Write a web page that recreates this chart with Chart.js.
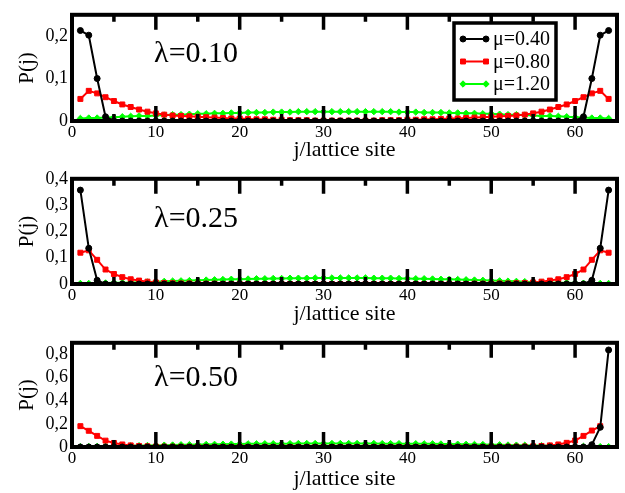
<!DOCTYPE html>
<html>
<head>
<meta charset="utf-8">
<script src="https://cdn.jsdelivr.net/npm/chart.js@4.4.1/dist/chart.umd.min.js"></script>
<style>
  html, body { margin: 0; padding: 0; background: #fff; }
  #wrap { position: relative; width: 625px; height: 493px; }
  canvas { position: absolute; left: 0; }
</style>
</head>
<body>
<div id="wrap">
  <canvas id="c1" width="625" height="164" style="top:0px"></canvas>
  <canvas id="c2" width="625" height="164" style="top:164px"></canvas>
  <canvas id="c3" width="625" height="165" style="top:328px"></canvas>
</div>
<script>
// lattice sites j = 1..64
const sites = Array.from({ length: 64 }, (_, i) => i + 1);

const seriesNames = ['μ=0.40', 'μ=0.80', 'μ=1.20'];
const lambdas = ['λ=0.10', 'λ=0.25', 'λ=0.50'];

const xTicks = [0, 10, 20, 30, 40, 50, 60];
const yTicks1 = [0, 0.1, 0.2];
const yTicks2 = [0, 0.1, 0.2, 0.3, 0.4];
const yTicks3 = [0, 0.2, 0.4, 0.6, 0.8];
const yMax = [0.25, 0.4, 0.9];

// lambda = 0.10
const black1 = [0.213, 0.202, 0.100, 0.010, 0, 0, 0, 0, 0, 0, 0, 0, 0, 0, 0, 0,
  0, 0, 0, 0, 0, 0, 0, 0, 0, 0, 0, 0, 0, 0, 0, 0,
  0, 0, 0, 0, 0, 0, 0, 0, 0, 0, 0, 0, 0, 0, 0, 0,
  0, 0, 0, 0, 0, 0, 0, 0, 0, 0, 0, 0, 0.010, 0.100, 0.202, 0.213];
const red1 = [0.052, 0.071, 0.065, 0.056, 0.047, 0.039, 0.033, 0.027, 0.022, 0.018, 0.015, 0.013, 0.012, 0.011, 0.010, 0.009,
  0.008, 0.007, 0.006, 0.006, 0.005, 0.004, 0.004, 0.003, 0.003, 0.002, 0.002, 0.002, 0.001, 0.001, 0.001, 0.001,
  0.001, 0.001, 0.001, 0.001, 0.002, 0.002, 0.002, 0.003, 0.003, 0.004, 0.004, 0.005, 0.006, 0.006, 0.007, 0.008,
  0.009, 0.010, 0.011, 0.012, 0.013, 0.015, 0.018, 0.022, 0.027, 0.033, 0.039, 0.047, 0.056, 0.065, 0.071, 0.052];
const green1 = [0.006, 0.007, 0.007, 0.008, 0.009, 0.010, 0.011, 0.012, 0.012, 0.013, 0.014, 0.015, 0.015, 0.016, 0.017, 0.017,
  0.018, 0.018, 0.019, 0.019, 0.020, 0.020, 0.020, 0.021, 0.021, 0.021, 0.022, 0.022, 0.022, 0.022, 0.022, 0.022,
  0.022, 0.022, 0.022, 0.022, 0.022, 0.022, 0.021, 0.021, 0.021, 0.020, 0.020, 0.020, 0.019, 0.019, 0.018, 0.018,
  0.017, 0.017, 0.016, 0.015, 0.015, 0.014, 0.013, 0.012, 0.012, 0.011, 0.010, 0.009, 0.008, 0.007, 0.007, 0.006];

// lambda = 0.25
const black2 = [0.357, 0.136, 0.014, 0, 0, 0, 0, 0, 0, 0, 0, 0, 0, 0, 0, 0,
  0, 0, 0, 0, 0, 0, 0, 0, 0, 0, 0, 0, 0, 0, 0, 0,
  0, 0, 0, 0, 0, 0, 0, 0, 0, 0, 0, 0, 0, 0, 0, 0,
  0, 0, 0, 0, 0, 0, 0, 0, 0, 0, 0, 0, 0, 0.014, 0.136, 0.357];
const red2 = [0.119, 0.128, 0.092, 0.055, 0.038, 0.026, 0.018, 0.013, 0.009, 0.006, 0.004, 0.003, 0.002, 0.002, 0.001, 0.001,
  0.001, 0, 0, 0, 0, 0, 0, 0, 0, 0, 0, 0, 0, 0, 0, 0,
  0, 0, 0, 0, 0, 0, 0, 0, 0, 0, 0, 0, 0, 0, 0, 0.001,
  0.001, 0.001, 0.002, 0.002, 0.003, 0.004, 0.006, 0.009, 0.013, 0.018, 0.026, 0.038, 0.055, 0.092, 0.128, 0.119];
const green2 = [0.002, 0.002, 0.003, 0.004, 0.005, 0.005, 0.006, 0.007, 0.008, 0.009, 0.010, 0.011, 0.012, 0.013, 0.014, 0.015,
  0.016, 0.017, 0.018, 0.018, 0.019, 0.020, 0.020, 0.021, 0.021, 0.022, 0.022, 0.022, 0.023, 0.023, 0.023, 0.023,
  0.023, 0.023, 0.023, 0.022, 0.022, 0.022, 0.021, 0.021, 0.020, 0.020, 0.019, 0.018, 0.018, 0.017, 0.016, 0.015,
  0.014, 0.013, 0.012, 0.011, 0.010, 0.009, 0.008, 0.007, 0.006, 0.005, 0.005, 0.004, 0.003, 0.002, 0.002, 0.002];

// lambda = 0.50
const black3 = [0, 0, 0, 0, 0, 0, 0, 0, 0, 0, 0, 0, 0, 0, 0, 0,
  0, 0, 0, 0, 0, 0, 0, 0, 0, 0, 0, 0, 0, 0, 0, 0,
  0, 0, 0, 0, 0, 0, 0, 0, 0, 0, 0, 0, 0, 0, 0, 0,
  0, 0, 0, 0, 0, 0, 0, 0, 0, 0, 0, 0, 0, 0.020, 0.170, 0.838];
const red3 = [0.180, 0.140, 0.096, 0.055, 0.035, 0.022, 0.014, 0.009, 0.006, 0.004, 0.003, 0.002, 0.001, 0.001, 0, 0,
  0, 0, 0, 0, 0, 0, 0, 0, 0, 0, 0, 0, 0, 0, 0, 0,
  0, 0, 0, 0, 0, 0, 0, 0, 0, 0, 0, 0, 0, 0, 0, 0,
  0, 0.001, 0.001, 0.002, 0.003, 0.004, 0.006, 0.009, 0.014, 0.022, 0.036, 0.056, 0.096, 0.142, 0.180];
const green3 = [0.003, 0.004, 0.005, 0.006, 0.008, 0.009, 0.010, 0.012, 0.013, 0.015, 0.016, 0.017, 0.019, 0.020, 0.021, 0.022,
  0.023, 0.024, 0.025, 0.026, 0.027, 0.027, 0.028, 0.028, 0.029, 0.029, 0.030, 0.030, 0.030, 0.030, 0.030, 0.030,
  0.030, 0.030, 0.030, 0.030, 0.029, 0.029, 0.029, 0.028, 0.028, 0.027, 0.027, 0.026, 0.025, 0.024, 0.023, 0.022,
  0.021, 0.020, 0.019, 0.017, 0.016, 0.015, 0.013, 0.012, 0.010, 0.009, 0.008, 0.006, 0.005, 0.004, 0.003, 0.003];

const colors = ['#000000', '#ff0000', '#00ff00'];
const styles = ['circle', 'rect', 'rectRot'];
const radii = [3, 3.5, 3.2];
const serif = 'Liberation Serif';

const panels = [
  { id: 'c1', series: [black1, red1, green1], yTicks: yTicks1, max: yMax[0], top: 8, axisH: 43, lamY: 39, legend: true },
  { id: 'c2', series: [black2, red2, green2], yTicks: yTicks2, max: yMax[1], top: 8, axisH: 44, lamY: 40, legend: false },
  { id: 'c3', series: [black3, red3, green3], yTicks: yTicks3, max: yMax[2], top: 6, axisH: 46, lamY: 35, legend: false }
];

function framePlugin(p, idx) {
  return {
    id: 'frame' + idx,
    afterDatasetsDraw(chart) {
      const { ctx, chartArea: a, scales } = chart;
      const x = scales.x;
      ctx.save();
      ctx.strokeStyle = '#000';
      // inward x ticks, top and bottom
      for (let v = 5; v < 65; v += 5) {
        const px = x.getPixelForValue(v);
        const len = v % 10 === 0 ? 15 : 7;
        ctx.lineWidth = 3.5;
        ctx.beginPath();
        ctx.moveTo(px, a.top); ctx.lineTo(px, a.top + len);
        ctx.moveTo(px, a.bottom); ctx.lineTo(px, a.bottom - len);
        ctx.stroke();
      }
      ctx.lineWidth = 4;
      ctx.strokeRect(a.left, a.top, a.right - a.left, a.bottom - a.top);

      // lambda label
      ctx.fillStyle = '#000';
      ctx.font = '30px "' + serif + '"';
      ctx.textAlign = 'center';
      ctx.textBaseline = 'middle';
      ctx.fillText(lambdas[idx], x.getPixelForValue(14.8), a.top + p.lamY);

      if (p.legend) {
        const bx = 454, by = 23, bw = 102, bh = 77;
        ctx.fillStyle = '#fff';
        ctx.fillRect(bx, by, bw, bh);
        ctx.lineWidth = 3.5;
        ctx.strokeRect(bx, by, bw, bh);
        ctx.font = '20px "' + serif + '"';
        ctx.textAlign = 'left';
        seriesNames.forEach((name, i) => {
          const ly = 39 + i * 22.5;
          ctx.strokeStyle = colors[i];
          ctx.fillStyle = colors[i];
          ctx.lineWidth = 2;
          ctx.beginPath(); ctx.moveTo(463, ly); ctx.lineTo(486, ly); ctx.stroke();
          ctx.lineWidth = 1;
          [463, 486].forEach(mx => {
            Chart.helpers.drawPoint(ctx, { pointStyle: styles[i], radius: radii[i], borderWidth: 1 }, mx, ly);
          });
          ctx.fillStyle = '#000';
          ctx.fillText(name, 493, ly + 1);
        });
      }
      ctx.restore();
    }
  };
}

panels.forEach((p, idx) => {
  const datasets = p.series.map((vals, i) => ({
    label: seriesNames[i],
    data: sites.map((j, k) => ({ x: j, y: vals[k] })),
    borderColor: colors[i],
    backgroundColor: colors[i],
    pointBackgroundColor: colors[i],
    pointBorderColor: colors[i],
    pointStyle: styles[i],
    pointRadius: radii[i],
    pointBorderWidth: 1,
    borderWidth: 2,
    tension: 0
  }));

  new Chart(document.getElementById(p.id), {
    type: 'line',
    data: { datasets },
    options: {
      responsive: false,
      animation: false,
      layout: { padding: { top: p.top, right: 8, left: 0, bottom: 0 } },
      plugins: { legend: { display: false }, tooltip: { enabled: false } },
      scales: {
        x: {
          type: 'linear',
          min: 0, max: 65,
          grid: { display: false, drawTicks: false },
          border: { display: false },
          afterBuildTicks: s => { s.ticks = xTicks.map(v => ({ value: v })); },
          afterFit: s => { s.height = p.axisH; },
          ticks: { color: '#000', padding: 1, maxRotation: 0, font: { family: serif, size: 17 } },
          title: {
            display: true, text: 'j/lattice site', color: '#000',
            padding: { top: 0, bottom: 1 },
            font: { family: serif, size: 22 }
          }
        },
        y: {
          min: 0, max: p.max,
          grid: { display: false, drawTicks: false },
          border: { display: false },
          afterBuildTicks: s => { s.ticks = p.yTicks.map(v => ({ value: v })); },
          afterFit: s => { s.width = 72; },
          ticks: {
            color: '#000', padding: 4,
            font: { family: serif, size: 18 },
            callback: v => String(v).replace('.', ',')
          },
          title: {
            display: true, text: 'P(j)', color: '#000',
            padding: { top: 15, bottom: 0 },
            font: { family: serif, size: 21 }
          }
        }
      }
    },
    plugins: [framePlugin(p, idx)]
  });
});
</script>
</body>
</html>
